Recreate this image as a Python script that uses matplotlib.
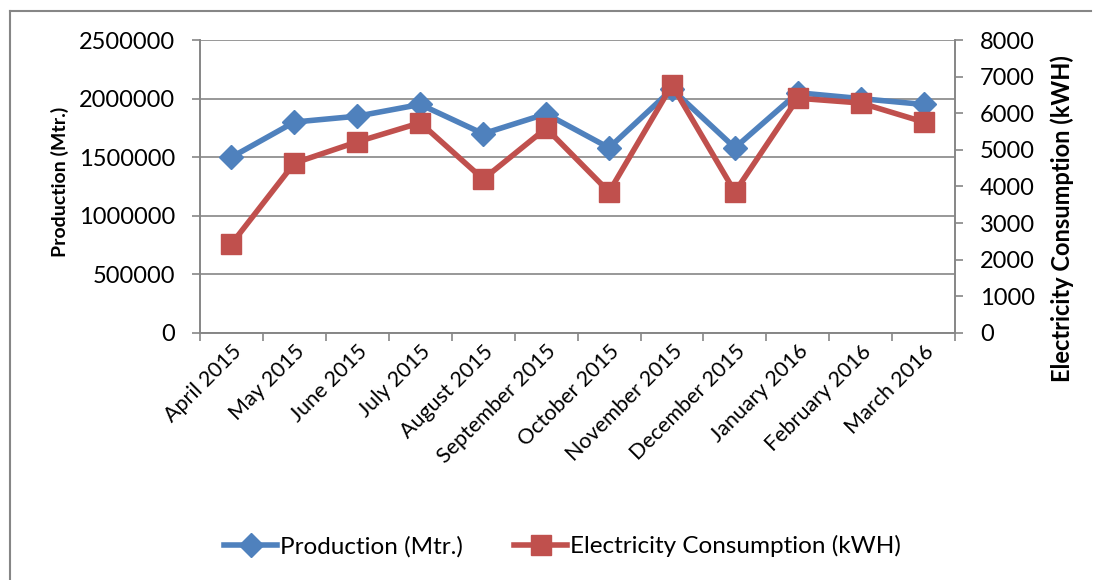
import matplotlib
matplotlib.use("Agg")
import matplotlib.pyplot as plt
from matplotlib.lines import Line2D
import numpy as np

months = ["April 2015", "May 2015", "June 2015", "July 2015", "August 2015",
          "September 2015", "October 2015", "November 2015", "December 2015",
          "January 2016", "February 2016", "March 2016"]
production = [1500000, 1800000, 1850000, 1950000, 1700000, 1870000,
              1580000, 2080000, 1580000, 2050000, 2000000, 1950000]
electricity = [2430, 4640, 5220, 5740, 4200, 5590,
               3850, 6770, 3850, 6410, 6280, 5760]
left_ticks = [0, 500000, 1000000, 1500000, 2000000, 2500000]
right_ticks = [0, 1000, 2000, 3000, 4000, 5000, 6000, 7000, 8000]

plt.rcParams['font.family'] = ['Lato', 'DejaVu Sans']
blue = '#4F81BD'
red = '#C0504D'
axcol = '#868686'

fig = plt.figure(figsize=(10.96, 5.8), dpi=100)
ax = fig.add_axes([0.1825, 0.426, 0.689, 0.505])
ax2 = ax.twinx()

x = np.arange(len(months))
ax.plot(x, production, color=blue, lw=4, marker='D', ms=12, zorder=3)
ax2.plot(x, electricity, color=red, lw=4, marker='s', ms=15, zorder=3)

ax.set_xlim(-0.5, len(months) - 0.5)
ax.set_ylim(0, 2500000)
ax2.set_ylim(0, 8000)
ax.set_yticks(left_ticks)
ax.set_yticklabels([str(v) for v in left_ticks])
ax2.set_yticks(right_ticks)
ax2.set_yticklabels([str(v) for v in right_ticks])

ax.set_xticks(x)
ax.set_xticklabels(months, rotation=45, ha='right', rotation_mode='anchor')
ax.set_xticks(np.arange(-0.5, len(months)), minor=True)
ax.tick_params(axis='x', which='major', length=0, pad=6, labelsize=15.5)
ax.tick_params(axis='x', which='minor', length=6, color=axcol, width=1.2)
ax.tick_params(axis='y', length=6, color=axcol, width=1.2, labelsize=17, pad=12)
ax2.tick_params(axis='y', length=6, color=axcol, width=1.2, labelsize=17, pad=12)

ax.grid(axis='y', color=axcol, lw=1.2)
ax.set_axisbelow(True)
for a in (ax, ax2):
    a.spines['top'].set_visible(False)
    for s in ('left', 'right', 'bottom'):
        a.spines[s].set_color(axcol)
        a.spines[s].set_linewidth(1.2)

fig.text(0.055, 0.686, 'Production (Mtr.)', rotation=90, fontsize=14,
         fontweight='bold', ha='center', va='center')
fig.text(0.969, 0.624, 'Electricity Consumption (kWH)', rotation=90,
         fontsize=17, fontweight='bold', ha='center', va='center')

handles = [Line2D([], [], color=blue, lw=4, marker='D', ms=12),
           Line2D([], [], color=red, lw=4, marker='s', ms=15)]
fig.legend(handles, ['Production (Mtr.)', 'Electricity Consumption (kWH)'],
           loc='center', bbox_to_anchor=(0.513, 0.058), ncol=2, frameon=False,
           fontsize=17.5, handlelength=2.2, handletextpad=0.1, columnspacing=2.1)

# chart area border
fig.add_artist(Line2D([0.009, 0.009], [0, 0.981], color=axcol, lw=1.5))
fig.add_artist(Line2D([0.009, 0.995], [0.981, 0.981], color=axcol, lw=1.5))

fig.savefig('out.png', dpi=100)
